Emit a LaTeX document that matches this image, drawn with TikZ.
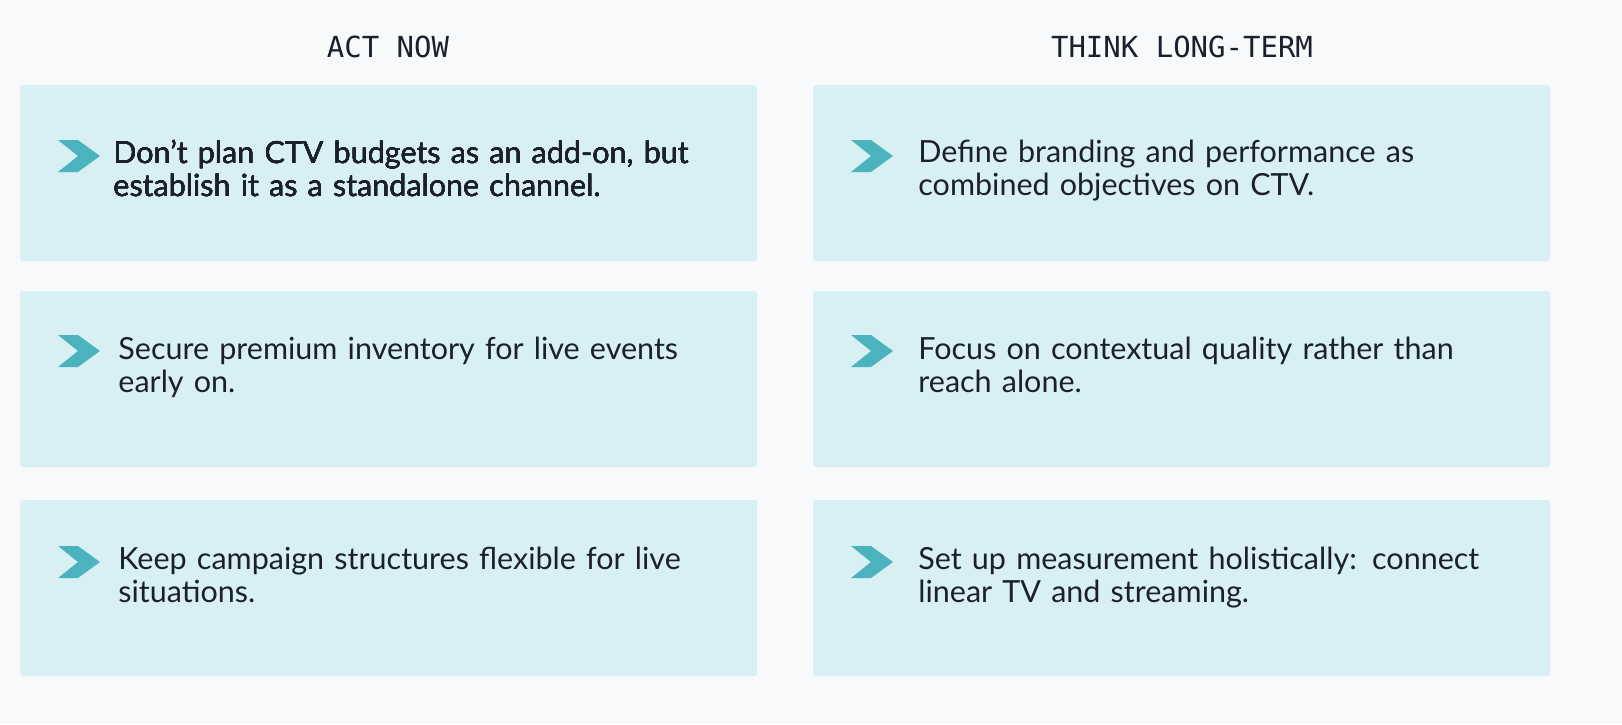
\documentclass[tikz,border=0pt]{standalone}
\usepackage{fontspec}
\setmainfont{Lato}
\newfontfamily\headfont{DejaVu Sans Mono}
\definecolor{pagebg}{HTML}{F7F9FB}
\definecolor{cardbg}{HTML}{D8F0F4}
\definecolor{chevteal}{HTML}{4BB3BE}
\definecolor{inktext}{HTML}{1B1F2E}
\tikzset{
  card/.style = {fill = cardbg, draw = none, rounded corners = 1.5pt},
  chev/.style = {fill = chevteal, draw = none},
  head/.style = {font = \headfont\fontsize{14.5}{16}\selectfont, text = inktext},
  tip/.style = {anchor = north west, align = left, inner sep = 0pt, text width = 310pt,
    font = \fontsize{15.25}{16.25}\selectfont, text = inktext}
}
\newcommand{\chevat}[2]{\fill[chev] (#1,#2-16) -- (#1+20,#2-16) -- (#1+42,#2) -- (#1+20,#2+16) -- (#1,#2+16) -- (#1+20,#2) -- cycle;}
\begin{document}
\begin{tikzpicture}[x=0.5pt, y=-0.5pt]
  \fill[pagebg] (0,0) rectangle (1622,724);
  % column headers
  \node[head] (acthead) at (388,47) {ACT NOW};
  \node[head] (thinkhead) at (1182,47) {THINK LONG-TERM};
  % cards
  \foreach \x in {20, 813}
    \foreach \y in {85, 291, 500}
      \fill[card] (\x,\y) rectangle ++(737,176);
  % chevrons
  \foreach \x in {58, 851}
    \foreach \y in {156, 351, 562}
      \chevat{\x}{\y}
  % texts
  \node[tip] (act1) at (113,140) {Don't plan CTV budgets as an add-on, but\\establish it as a standalone channel.};
  \node[tip] (act2) at (118,337) {Secure premium inventory for live events\\early on.};
  \node[tip] (act3) at (118,547) {Keep campaign structures flexible for live\\situations.};
  \node[tip] (think1) at (918,140) {Define branding and performance as\\combined objectives on CTV.};
  \node[tip] (think2) at (918,337) {Focus on contextual quality rather than\\reach alone.};
  \node[tip] (think3) at (918,547) {Set up measurement holistically: connect\\linear TV and streaming.};
  \pgfresetboundingbox
  \useasboundingbox (0,0) rectangle (1622,724);
\end{tikzpicture}
\end{document}
